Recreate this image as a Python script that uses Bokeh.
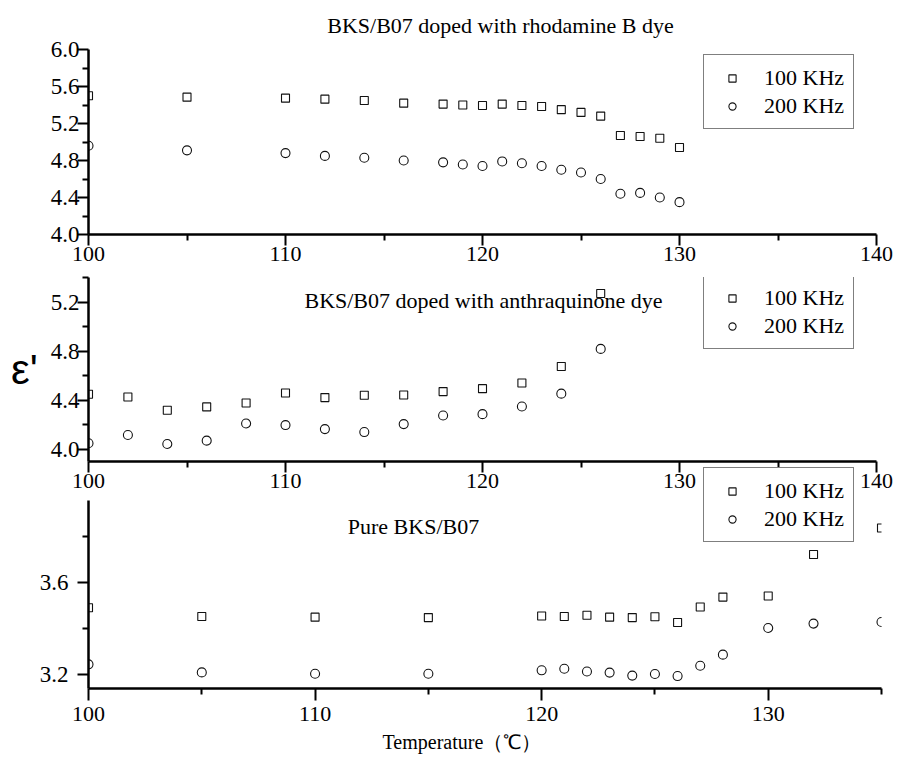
from bokeh.plotting import figure
from bokeh.models import FixedTicker, Label, Legend, LegendItem, Range1d, PrintfTickFormatter, Title
from bokeh.layouts import column
from bokeh.embed import file_html
from bokeh.resources import INLINE

# ---------------- data ----------------
rh_T = [100, 105, 110, 112, 114, 116, 118, 119, 120, 121, 122, 123, 124, 125, 126, 127, 128, 129, 130]
rh_100 = [5.50, 5.485, 5.474, 5.463, 5.449, 5.42, 5.41, 5.40, 5.395, 5.41, 5.395, 5.384, 5.35, 5.32, 5.28, 5.07, 5.06, 5.04, 4.94]
rh_200 = [4.96, 4.91, 4.88, 4.85, 4.83, 4.80, 4.78, 4.757, 4.74, 4.79, 4.77, 4.74, 4.70, 4.67, 4.60, 4.44, 4.45, 4.40, 4.35]

an_T = [100, 102, 104, 106, 108, 110, 112, 114, 116, 118, 120, 122, 124, 126]
an_100 = [4.448, 4.426, 4.318, 4.345, 4.377, 4.458, 4.421, 4.44, 4.442, 4.47, 4.494, 4.54, 4.674, 5.27]
an_200 = [4.049, 4.116, 4.043, 4.07, 4.21, 4.197, 4.164, 4.14, 4.205, 4.275, 4.286, 4.348, 4.453, 4.818]

pure_T = [100, 105, 110, 115, 120, 121, 122, 123, 124, 125, 126, 127, 128, 130, 132, 135]
pure_100 = [3.491, 3.453, 3.45, 3.448, 3.455, 3.453, 3.458, 3.45, 3.448, 3.452, 3.427, 3.494, 3.537, 3.542, 3.722, 3.837]
pure_200 = [3.245, 3.21, 3.204, 3.204, 3.219, 3.226, 3.214, 3.209, 3.196, 3.203, 3.194, 3.239, 3.287, 3.403, 3.422, 3.429]

titles = ["BKS/B07 doped with rhodamine B dye", "BKS/B07 doped with anthraquinone dye", "Pure BKS/B07"]
series_labels = ["100 KHz", "200 KHz"]
y_title = "\u03b5'"
x_title = "Temperature\uff08\u2103\uff09"

x_ticks_a = [100, 110, 120, 130, 140]
x_minor_a = [105, 115, 125, 135]
x_ticks_c = [100, 110, 120, 130]
x_minor_c = [105, 115, 125, 135]
y_ticks_1 = [4.0, 4.4, 4.8, 5.2, 5.6, 6.0]
y_minor_1 = [4.2, 4.6, 5.0, 5.4, 5.8]
y_ticks_2 = [4.0, 4.4, 4.8, 5.2]
y_minor_2 = [4.2, 4.6, 5.0, 5.4]
y_ticks_3 = [3.2, 3.6]
y_minor_3 = [3.4, 3.8]

SERIF = "'Liberation Serif', 'Times New Roman', serif"
FS = "22px"


def make_fig(xr, yr, fw, fh, left, top, bottom, right, mtop):
    p = figure(x_range=Range1d(*xr), y_range=Range1d(*yr), frame_width=fw, frame_height=fh,
               min_border_left=left, min_border_top=top, min_border_bottom=bottom,
               min_border_right=right, output_backend="svg", toolbar_location=None, tools="",
               background_fill_color=None, border_fill_color=None, outline_line_color=None,
               margin=(mtop, 0, 0, 0))
    p.xgrid.visible = False
    p.ygrid.visible = False
    for axs in (p.xaxis, p.yaxis):
        axs.axis_line_width = 2.5
        axs.axis_line_color = "black"
        axs.major_tick_line_width = 2
        axs.minor_tick_line_width = 2
        axs.major_tick_line_color = "black"
        axs.minor_tick_line_color = "black"
        axs.major_tick_in = 0
        axs.minor_tick_in = 0
        axs.major_tick_out = 11
        axs.minor_tick_out = 6
        axs.major_label_text_font = SERIF
        axs.major_label_text_font_size = FS
        axs.major_label_text_color = "black"
    p.yaxis.major_label_text_font_size = "23px"
    p.yaxis.formatter = PrintfTickFormatter(format="%.1f")
    return p


def add_series(p, T, a, b, loc):
    r1 = p.scatter(T, a, marker="square", size=8, line_color="#111111", fill_color=None, line_width=1.1)
    r2 = p.scatter(T, b, marker="circle", size=9, line_color="#111111", fill_color=None, line_width=1.1)
    leg = Legend(items=[LegendItem(label=series_labels[0], renderers=[r1]),
                        LegendItem(label=series_labels[1], renderers=[r2])],
                 location=loc, margin=0, padding=9, spacing=1, glyph_width=38, glyph_height=18,
                 label_height=27, label_standoff=13, label_text_font=SERIF, label_text_font_size=FS,
                 label_text_color="black", border_line_color="black", border_line_width=1.5,
                 background_fill_color="white", background_fill_alpha=1.0)
    p.add_layout(leg)


def title_label(p, text, x, y):
    p.add_layout(Label(x=x, y=y, x_units="screen", y_units="screen", text=text, text_align="center",
                       text_baseline="alphabetic", text_font=SERIF, text_font_size=FS, text_color="black"))


# ---------------- panel 1 ----------------
p1 = make_fig((100, 140), (4.0, 6.4), 788, 222, 88, 12, 60, 20, 0)
p1.yaxis.bounds = (4.0, 6.0)
p1.xaxis.ticker = FixedTicker(ticks=x_ticks_a, minor_ticks=x_minor_a)
p1.yaxis.ticker = FixedTicker(ticks=y_ticks_1, minor_ticks=y_minor_1)
p1.xaxis.major_label_standoff = 1
p1.yaxis.major_label_standoff = -2
add_series(p1, rh_T, rh_100, rh_200, (615, 105))
title_label(p1, titles[0], 412, 209)

# ---------------- panel 2 ----------------
p2 = make_fig((100, 140), (3.9, 5.4), 788, 184, 88, 60, 60, 20, -77)
p2.xaxis.ticker = FixedTicker(ticks=x_ticks_a, minor_ticks=x_minor_a)
p2.yaxis.ticker = FixedTicker(ticks=y_ticks_2, minor_ticks=y_minor_2)
p2.xaxis.major_label_standoff = 1
p2.yaxis.major_label_standoff = -2
p2.yaxis.axis_label = y_title
p2.yaxis.axis_label_orientation = "horizontal"
p2.yaxis.axis_label_text_font = "'Liberation Sans', Arial, sans-serif"
p2.yaxis.axis_label_text_font_style = "normal"
p2.yaxis.axis_label_text_font_size = "42px"
p2.yaxis.axis_label_text_color = "black"
p2.yaxis.axis_label_text_baseline = "alphabetic"
p2.yaxis.axis_label_standoff = 10
add_series(p2, an_T, an_100, an_200, (615, 112))
title_label(p2, titles[1], 395, 161)

# ---------------- panel 3 ----------------
p3 = make_fig((100, 135), (3.14, 4.1), 793, 221, 87, 20, 69, 16, -74)
p3.yaxis.bounds = (3.14, 3.955)
p3.xaxis.ticker = FixedTicker(ticks=x_ticks_c, minor_ticks=x_minor_c)
p3.yaxis.ticker = FixedTicker(ticks=y_ticks_3, minor_ticks=y_minor_3)
p3.xaxis.major_tick_out = 12
p3.xaxis.major_label_standoff = 6
p3.yaxis.major_label_standoff = 9
add_series(p3, pure_T, pure_100, pure_200, (615, 146))
title_label(p3, titles[2], 325, 162)
p3.add_layout(Title(text=x_title, align="left", offset=294, text_font=SERIF, text_font_size="20px",
                    text_font_style="normal", text_color="black", standoff=10), "below")

layout = column(p1, p2, p3)
open("out.html", "w").write(file_html(layout, INLINE))
